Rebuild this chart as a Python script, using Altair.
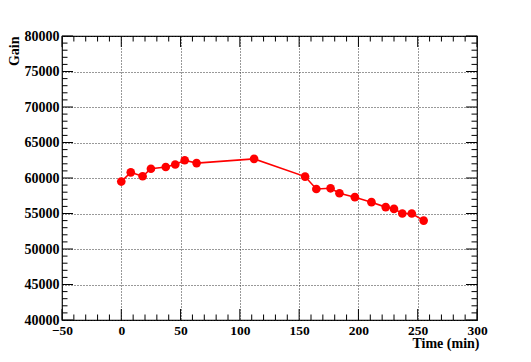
import altair as alt
import pandas as pd

time_min = [0, 8, 18, 25, 37.5, 45.5, 53.5, 63.5, 112, 155, 164.5, 176.5, 184, 197, 211, 223, 230, 237, 245, 255]
gain = [59500, 60800, 60250, 61300, 61550, 61900, 62500, 62100, 62700, 60200,
        58450, 58550, 57850, 57300, 56600, 55900, 55650, 55000, 55000, 54000]

x_major = list(range(-50, 301, 50))
x_minor = [v for v in range(-50, 301, 10) if v % 50 != 0]
y_major = list(range(40000, 80001, 5000))
y_minor = [v for v in range(40000, 80001, 1000) if v % 5000 != 0]

W, H = 415, 284
MAJ, MIN = 11, 5.5
FONT = "Liberation Serif"

df = pd.DataFrame({"t": time_min, "g": gain})

xs = alt.Scale(domain=[-50, 300], nice=False, zero=False)
ys = alt.Scale(domain=[40000, 80000], nice=False, zero=False)

xaxis = alt.Axis(values=x_major, format="d", grid=True, gridDash=[1, 2], gridColor="#333333",
                 ticks=False, domain=False, labelFont=FONT, labelFontWeight="bold",
                 labelFontSize=13.5, labelColor="black", labelPadding=3, labelFlush=False,
                 labelOverlap=False,
                 title="Time (min)", titleFont=FONT, titleFontWeight="bold", titleFontSize=14,
                 titleColor="black", titleX=W + 2, titleY=27, titleAlign="right",
                 titleBaseline="alphabetic")
yaxis = alt.Axis(values=y_major, format="d", grid=True, gridDash=[1, 2], gridColor="#333333",
                 ticks=False, domain=False, labelFont=FONT, labelFontWeight="bold",
                 labelFontSize=14, labelColor="black", labelPadding=3, labelFlush=False,
                 labelOverlap=False,
                 title="Gain", titleFont=FONT, titleFontWeight="bold", titleFontSize=14,
                 titleColor="black", titleAngle=-90, titleX=-44, titleY=0,
                 titleAlign="right", titleBaseline="alphabetic")


def X(field):
    return alt.X(field, type="quantitative", scale=xs, axis=xaxis, title="Time (min)")


def Y(field):
    return alt.Y(field, type="quantitative", scale=ys, axis=yaxis, title="Gain")


base = alt.Chart(df)
line = base.mark_line(color="#ff0000", strokeWidth=1.6).encode(x=X("t"), y=Y("g"))
pts = base.mark_circle(color="#ff0000", size=75, opacity=1).encode(x=X("t"), y=Y("g"))


def yticks(vals, length):
    d = pd.DataFrame({"v": vals})
    left = alt.Chart(d).mark_rule(color="black", strokeWidth=1).encode(
        y=Y("v"), x=alt.value(0), x2=alt.value(length))
    right = alt.Chart(d).mark_rule(color="black", strokeWidth=1).encode(
        y=Y("v"), x=alt.value(W - length), x2=alt.value(W))
    return [left, right]


def xticks(vals, length):
    d = pd.DataFrame({"v": vals})
    bottom = alt.Chart(d).mark_rule(color="black", strokeWidth=1).encode(
        x=X("v"), y=alt.value(H - length), y2=alt.value(H))
    top = alt.Chart(d).mark_rule(color="black", strokeWidth=1).encode(
        x=X("v"), y=alt.value(0), y2=alt.value(length))
    return [bottom, top]


layers = [line, pts] + yticks(y_major, MAJ) + yticks(y_minor, MIN) + xticks(x_major, MAJ) + xticks(x_minor, MIN)

chart = alt.layer(*layers).properties(
    width=W, height=H,
    autosize=alt.AutoSizeParams(type="none"),
    padding={"left": 54, "top": 28, "right": 46, "bottom": 34},
    background="white",
).configure_view(stroke="black", strokeWidth=1.2)

chart.save("out.html", embed_options={"renderer": "svg", "actions": False})
